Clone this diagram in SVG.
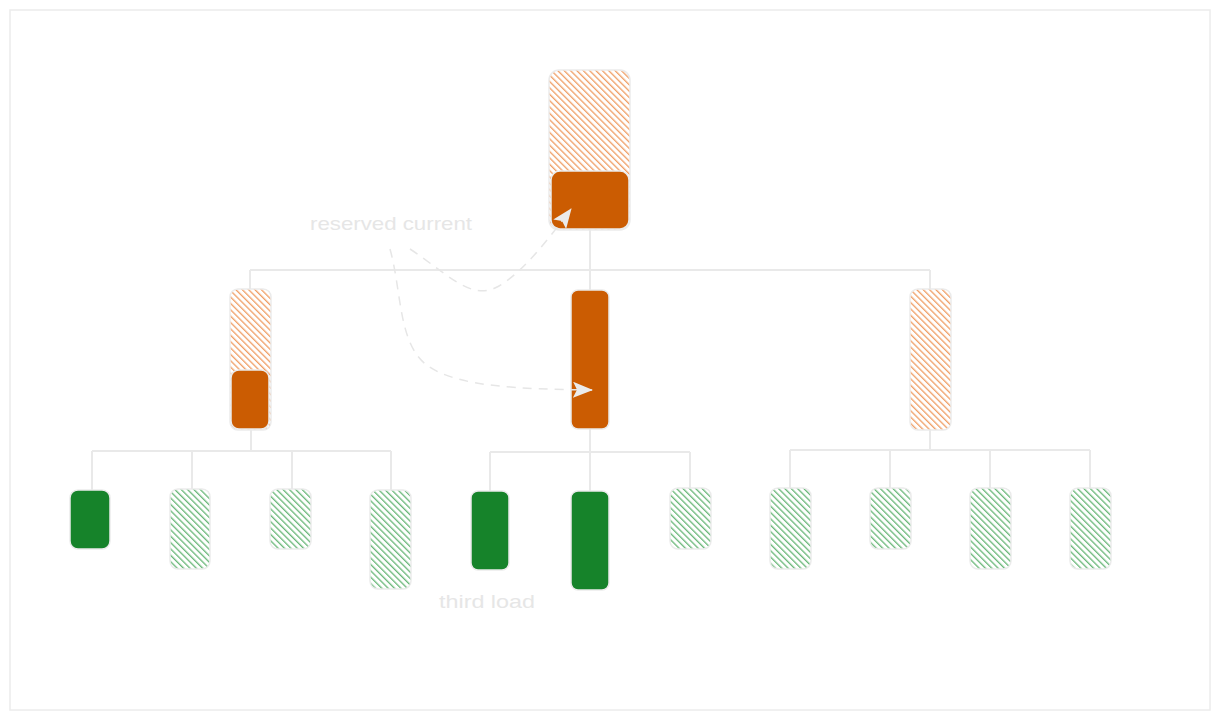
<svg xmlns="http://www.w3.org/2000/svg" width="1220" height="720" viewBox="0 0 1220 720">
<defs>
<pattern id="hO" patternUnits="userSpaceOnUse" width="4.5" height="4.5" patternTransform="rotate(45)">
<line x1="0" y1="2" x2="4.5" y2="2" stroke="#ec8a45" stroke-width="1.1"/>
</pattern>
<pattern id="hG" patternUnits="userSpaceOnUse" width="4.5" height="4.5" patternTransform="rotate(45)">
<line x1="0" y1="2" x2="4.5" y2="2" stroke="#4aa85c" stroke-width="1.1"/>
</pattern>
<marker id="ah2" viewBox="0 0 20 16" refX="19" refY="8" markerWidth="20" markerHeight="16" orient="auto" markerUnits="userSpaceOnUse">
<path d="M0,0 L20,8 L0,16 L4,8 Z" fill="#ebebeb"/>
</marker>
</defs>
<style>
.frame{fill:#ffffff;stroke:#ececec;stroke-width:1.5}
.hatchO{fill:url(#hO);stroke:#ebebeb;stroke-width:1.5}
.hatchG{fill:url(#hG);stroke:#ebebeb;stroke-width:1.5}
.solidO{fill:#cb5c02;stroke:#ebebeb;stroke-width:1.5}
.solidG{fill:#16832a;stroke:#ebebeb;stroke-width:1.5}
.wire{fill:none;stroke:#e9e9e9;stroke-width:2}
.dash{fill:none;stroke:#e6e6e6;stroke-width:1.5;stroke-dasharray:9 7}
.lbl{font-family:"Liberation Sans","DejaVu Sans",sans-serif;font-size:19px;fill:#e6e6e6}
</style>
<rect class="frame" x="10" y="10" width="1200" height="700"/>

<g id="root">
<rect class="hatchO" x="549" y="70" width="81" height="160" rx="10"/>
<rect class="solidO" x="551" y="171" width="78" height="58" rx="9"/>
</g>
<g id="mid-left">
<rect class="hatchO" x="230" y="289" width="41" height="141" rx="8"/>
<rect class="solidO" x="231" y="370" width="38" height="59" rx="8"/>
</g>
<g id="mid-center">
<rect class="solidO" x="571" y="290" width="38" height="139" rx="7"/>
</g>
<g id="mid-right">
<rect class="hatchO" x="910" y="289" width="41" height="141" rx="8"/>
</g>

<g id="leaf1"><rect class="solidG" x="70" y="490" width="40" height="59" rx="8"/></g>
<g id="leaf2"><rect class="hatchG" x="170" y="489" width="40" height="80" rx="8"/></g>
<g id="leaf3"><rect class="hatchG" x="270" y="489" width="41" height="60" rx="8"/></g>
<g id="leaf4"><rect class="hatchG" x="370" y="490" width="41" height="99" rx="8"/></g>
<g id="leaf5"><rect class="solidG" x="471" y="491" width="38" height="79" rx="7"/></g>
<g id="leaf6"><rect class="solidG" x="571" y="491" width="38" height="99" rx="7"/></g>
<g id="leaf7"><rect class="hatchG" x="670" y="488" width="41" height="61" rx="8"/></g>
<g id="leaf8"><rect class="hatchG" x="770" y="488" width="41" height="81" rx="8"/></g>
<g id="leaf9"><rect class="hatchG" x="870" y="488" width="41" height="61" rx="8"/></g>
<g id="leaf10"><rect class="hatchG" x="970" y="488" width="41" height="81" rx="8"/></g>
<g id="leaf11"><rect class="hatchG" x="1070" y="488" width="41" height="81" rx="8"/></g>

<g id="connectors">
<path class="wire" d="M590,230 V270 M250,270 H930 M250,270 V289 M590,270 V290 M930,270 V289"/>
<path class="wire" d="M251,430 V451 M92,451 H391 M92,451 V490 M192,451 V489 M292,451 V489 M391,451 V490"/>
<path class="wire" d="M590,429 V491 M490,452 H690 M490,452 V491 M690,452 V488"/>
<path class="wire" d="M930,430 V450 M790,450 H1090 M790,450 V488 M890,450 V488 M990,450 V488 M1090,450 V488"/>
<path class="dash" d="M410,249 C445,272 470,300 495,288 C520,276 548,240 571,209" marker-end="url(#ah2)"/>
<path class="dash" d="M390,249 C402,292 398,345 428,366 C458,387 520,389 592,390" marker-end="url(#ah2)"/>
</g>

<g id="label-reserved"><text class="lbl" x="310" y="230" textLength="162" lengthAdjust="spacingAndGlyphs">reserved current</text></g>
<g id="label-third"><text class="lbl" x="439" y="608" textLength="96" lengthAdjust="spacingAndGlyphs">third load</text></g>
</svg>
